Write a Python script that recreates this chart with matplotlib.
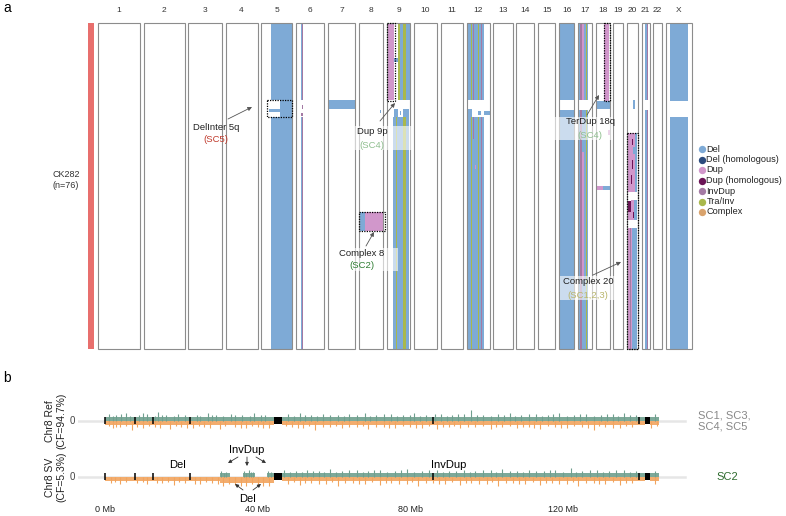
import matplotlib.pyplot as plt
from matplotlib.patches import Rectangle

plt.rcParams['font.family'] = ['Liberation Sans', 'DejaVu Sans']

W, H = 786, 516

# ---- panel a data ----
chroms = ['1', '2', '3', '4', '5', '6', '7', '8', '9', '10', '11', '12',
          '13', '14', '15', '16', '17', '18', '19', '20', '21', '22', 'X']
chrom_mb = [248.96, 242.19, 198.30, 190.21, 181.54, 170.81, 159.35, 145.14,
            138.39, 133.80, 135.09, 133.28, 114.36, 107.04, 101.99, 90.34,
            83.26, 80.37, 58.62, 64.44, 46.71, 50.82, 156.04]
gap_mb = 22.5
n_cells = 76

sv_types = ['Del', 'Del (homologous)', 'Dup', 'Dup (homologous)',
            'InvDup', 'Tra/Inv', 'Complex']
sv_colors = ['#7eaad6', '#2b4b7d', '#d197cb', '#6b1456',
             '#a47aa4', '#a9b84c', '#d9a36d']
col = dict(zip(sv_types, sv_colors))

# chrom, start fraction, end fraction, first cell row, last cell row, type
events = [
    ('5', 0.33, 1.00, 0, 18, 'Del'), ('5', 0.33, 1.00, 22, 76, 'Del'),
    ('5', 0.60, 1.00, 18, 22, 'Del'), ('5', 0.25, 0.60, 20, 20.8, 'Del'),
    ('6', 0.17, 0.21, 0, 18, 'Del'), ('6', 0.21, 0.25, 0, 18, 'InvDup'),
    ('6', 0.17, 0.21, 22, 76, 'Del'), ('6', 0.21, 0.25, 22, 76, 'InvDup'),
    ('6', 0.21, 0.25, 19.2, 20, 'InvDup'), ('6', 0.17, 0.25, 21, 21.6, 'InvDup'),
    ('7', 0.00, 1.00, 18, 20, 'Del'),
    ('8', 0.76, 0.80, 20.2, 21, 'Del'), ('8', 0.86, 0.90, 20.2, 21, 'Del'),
    ('8', 0.00, 0.25, 44, 48.5, 'Del'), ('8', 0.25, 1.00, 44, 48.5, 'Dup'),
    ('9', 0.03, 0.30, 0, 18, 'Dup'), ('9', 0.48, 0.55, 0, 18, 'Tra/Inv'),
    ('9', 0.55, 0.68, 0, 18, 'Del'), ('9', 0.68, 0.80, 0, 18, 'Tra/Inv'),
    ('9', 0.80, 0.97, 0, 18, 'Del'), ('9', 0.30, 0.48, 8.2, 9.2, 'Del'),
    ('9', 0.25, 0.67, 22, 76, 'Del'), ('9', 0.67, 0.80, 22, 76, 'Tra/Inv'),
    ('9', 0.80, 0.95, 22, 76, 'Del'), ('9', 0.40, 0.43, 22, 76, 'Tra/Inv'),
    ('9', 0.30, 0.45, 20, 22, 'Del'), ('9', 0.55, 0.60, 20.5, 21.5, 'Del'),
    ('9', 0.70, 0.95, 20, 22, 'Del'),
    ('12', 0.00, 0.75, 0, 18, 'Del'), ('12', 0.00, 0.75, 22, 76, 'Del'),
    ('12', 0.18, 0.22, 0, 18, 'Tra/Inv'), ('12', 0.18, 0.22, 22, 76, 'Tra/Inv'),
    ('12', 0.50, 0.54, 0, 18, 'Tra/Inv'), ('12', 0.50, 0.54, 22, 76, 'Tra/Inv'),
    ('12', 0.26, 0.30, 0, 18, 'InvDup'), ('12', 0.33, 0.37, 0, 18, 'Dup'),
    ('12', 0.42, 0.46, 0, 18, 'InvDup'), ('12', 0.42, 0.46, 22, 76, 'InvDup'),
    ('12', 0.60, 0.65, 0, 18, 'InvDup'), ('12', 0.60, 0.65, 22, 76, 'InvDup'),
    ('12', 0.26, 0.30, 22, 27, 'InvDup'), ('12', 0.33, 0.40, 33, 34, 'Dup'),
    ('12', 0.00, 0.20, 20, 22, 'Del'), ('12', 0.50, 0.60, 20.5, 21.5, 'Del'),
    ('12', 0.75, 1.00, 20.5, 21.5, 'Del'),
    ('16', 0.00, 1.00, 0, 18, 'Del'), ('16', 0.00, 1.00, 20.3, 76, 'Del'),
    ('17', 0.00, 0.72, 0, 18, 'Del'), ('17', 0.00, 0.72, 20.3, 76, 'Del'),
    ('17', 0.15, 0.25, 0, 18, 'InvDup'), ('17', 0.15, 0.25, 20.3, 76, 'InvDup'),
    ('17', 0.30, 0.38, 0, 18, 'Dup'), ('17', 0.30, 0.38, 30, 60, 'Dup'),
    ('17', 0.55, 0.61, 0, 18, 'Tra/Inv'), ('17', 0.55, 0.61, 20.3, 76, 'Tra/Inv'),
    ('18', 0.60, 0.95, 0, 18.3, 'Dup'), ('18', 0.00, 1.00, 18.3, 20, 'Del'),
    ('18', 0.85, 1.00, 25, 26, 'Dup'),
    ('18', 0.00, 0.50, 38, 39, 'Dup'), ('18', 0.50, 1.00, 38, 39, 'Del'),
    ('20', 0.55, 0.70, 18, 20, 'Del'),
    ('20', 0.05, 0.75, 25.7, 39.4, 'Dup'), ('20', 0.75, 0.92, 25.7, 39.4, 'Del'),
    ('20', 0.45, 0.52, 27, 28.5, 'Dup (homologous)'),
    ('20', 0.45, 0.52, 32, 34, 'Dup (homologous)'),
    ('20', 0.40, 0.48, 35.5, 37.5, 'Dup (homologous)'),
    ('20', 0.55, 0.70, 29, 30.5, 'Del'),
    ('20', 0.05, 0.40, 41.5, 44, 'Dup (homologous)'),
    ('20', 0.40, 0.60, 41.3, 46, 'Dup'), ('20', 0.05, 0.40, 44, 46, 'Dup'),
    ('20', 0.60, 0.92, 41.3, 46, 'Del'),
    ('20', 0.55, 0.65, 44, 45.5, 'Dup (homologous)'),
    ('20', 0.05, 0.45, 47.8, 76, 'Dup'), ('20', 0.30, 0.36, 47.8, 76, 'InvDup'),
    ('20', 0.45, 0.90, 47.8, 76, 'Del'),
    ('21', 0.45, 0.62, 0, 18, 'Del'), ('21', 0.62, 0.82, 0, 18, 'InvDup'),
    ('21', 0.45, 0.62, 20.3, 76, 'Del'), ('21', 0.62, 0.82, 20.3, 76, 'InvDup'),
    ('X', 0.15, 0.85, 0, 18.2, 'Del'), ('X', 0.15, 0.85, 22, 76, 'Del'),
]

# dashed boxes: chrom, start fraction, end fraction, first row, last row
boxes = [('5', 0.20, 1.0, 17.9, 21.9), ('9', 0.0, 0.35, 0, 18.3),
         ('18', 0.55, 1.0, 0, 18.3), ('8', 0.0, 1.05, 44, 48.5),
         ('20', 0.0, 1.0, 25.7, 76)]

# labels: name, subclone, subclone colour, centre px, bg box px, arrow px
labels = [
    ('DelInter 5q', '(SC5)', '#c0392b', (216, 133), None, ((228, 119), (252, 107))),
    ('Dup 9p', '(SC4)', '#8fbf8f', (372, 138), (355, 126, 412, 150), ((380, 121), (395, 103))),
    ('Complex 8', '(SC2)', '#2e7d32', (362, 259), (349, 248, 398, 271), ((366, 246), (374, 232))),
    ('TerDup 18q', '(SC4)', '#8fbf8f', (590, 128), (540, 117, 613, 140), ((587, 115), (599, 95))),
    ('Complex 20', '(SC1,2,3)', '#b9b56a', (588, 288), (560, 276, 616, 300), ((593, 275), (621, 262))),
]

# ---- panel b data (Mb) ----
chr8_len = 145.14
gap_ticks = [0, 7.9, 12.7, 22.3, 86.0, 140.0]
gap_blocks = [(44.3, 46.5), (141.6, 142.8)]
ref_green = [(0, 44.3), (46.5, 141.6), (142.8, chr8_len)]
ref_orange = [(0, 44.3), (46.5, 141.6), (142.8, chr8_len)]
sv_green = [(30.1, 32.7), (36.1, 39.3), (42.4, 44.3), (46.5, 141.6), (142.8, chr8_len)]
sv_orange = [(0, 44.3), (46.5, 141.6), (142.8, chr8_len)]
sv_orange_deep = [(30.0, 44.3)]
ref_up = [(1, 6), (2, 4), (3, 5), (4.2, 6), (5.5, 7), (6.6, 4), (9, 5), (10, 7), (11, 6),
          (13, 4), (14, 8), (15, 5), (16, 5), (18, 4), (19, 6), (21, 5), (24, 5), (25, 4),
          (27, 7), (28, 5), (29, 5), (31, 4), (33, 6), (34, 5), (36, 5), (38, 4), (39, 7),
          (41, 5), (42, 5), (48, 6), (49.5, 4), (51, 7), (52.5, 5), (54, 5), (55.5, 4),
          (57, 6), (59, 5), (61, 5), (62.5, 4), (64, 6), (66, 5), (68, 7), (69.5, 4),
          (71, 5), (73, 6), (75, 6), (76.5, 4), (78, 5), (80, 5), (81, 7), (82.5, 4),
          (84, 5), (86.5, 6), (88, 6), (89.5, 4), (91, 5), (92.5, 6), (94, 6), (96, 10),
          (97.5, 5), (99, 5), (101, 4), (103, 6), (104.5, 5), (106, 7), (107.5, 4),
          (109, 5), (111, 6), (113, 6), (114.5, 4), (116, 5), (117.5, 6), (119, 7),
          (121, 4), (123, 5), (124.5, 6), (126, 6), (128, 4), (130, 5), (131.5, 6),
          (133, 6), (134.5, 4), (136, 7), (137.5, 5), (139, 5), (144, 6)]
ref_down = [(1, 4), (2, 6), (3, 5), (4, 5), (5.5, 4), (7, 8), (8.5, 5), (10, 6), (11.5, 4),
            (13, 5), (14.5, 6), (17, 7), (18.5, 4), (20, 5), (21.5, 6), (23, 6), (24.5, 4),
            (26, 5), (27.5, 6), (30, 7), (31.5, 4), (34, 5), (35.5, 6), (37, 6), (38.5, 4),
            (40, 5), (41.5, 6), (43, 6), (47.5, 4), (49, 5), (50.5, 6), (52, 6), (53.5, 4),
            (55, 8), (57, 5), (59, 5), (60.5, 4), (62, 6), (64, 5), (66, 5), (67.5, 4),
            (69, 7), (71, 5), (73, 5), (74.5, 6), (76, 6), (78, 4), (80, 5), (81.5, 6),
            (83, 6), (85, 4), (87, 7), (88.5, 5), (90, 5), (91.5, 4), (93, 6), (95, 5),
            (97, 5), (99, 4), (101, 7), (102.5, 5), (104, 5), (106, 4), (108, 6),
            (109.5, 5), (111, 5), (112.5, 6), (114, 7), (116, 4), (118, 5), (119.5, 6),
            (121, 6), (123, 4), (125, 5), (126.5, 6), (128, 8), (129.5, 4), (131, 5),
            (133, 6), (135, 6), (136.5, 4), (138, 5), (143, 6), (144.5, 4)]
sv_up = [(30.5, 5), (31.2, 3), (31.8, 4), (36.5, 5), (37, 3), (37.6, 6), (38.2, 4), (38.8, 4),
         (42.8, 5), (43.6, 4), (47, 6), (48.5, 4), (50, 5), (51.5, 4), (53, 6), (54.5, 5),
         (56, 5), (57.5, 4), (59, 7), (60.5, 4), (62, 5), (64, 6), (66, 6), (67.5, 4),
         (69, 5), (70.5, 6), (72, 6), (74, 4), (76, 5), (77.5, 6), (79, 7), (81, 4),
         (83, 5), (85, 6), (87, 6), (88.5, 4), (90, 5), (92, 5), (94, 6), (95.5, 4),
         (97, 5), (99, 6), (101, 6), (102.5, 4), (104, 7), (106, 5), (108, 5), (109.5, 4),
         (111, 6), (113, 5), (115, 5), (116.5, 6), (118, 6), (120, 4), (122, 8),
         (123.5, 4), (125, 5), (127, 6), (129, 6), (130.5, 4), (132, 5), (134, 6),
         (136, 6), (137.5, 4), (139, 5), (144, 5)]
sv_down = [(1.5, 5), (2.5, 4), (4, 6), (5.5, 4), (8.5, 5), (10, 4), (11, 6), (13.5, 5),
           (15, 5), (16.5, 4), (18, 7), (19.5, 4), (21, 5), (23.5, 6), (25, 6), (26.5, 4),
           (28, 5), (29.5, 6), (31, 8), (32.5, 6), (34, 7), (35.5, 8), (37, 8), (38.5, 6),
           (40, 7), (41.5, 8), (43, 8), (48, 6), (49.5, 4), (51, 7), (52.5, 5), (54, 5),
           (56, 6), (58, 6), (59.5, 4), (61, 8), (63, 5), (65, 5), (66.5, 6), (68, 6),
           (70, 4), (72, 7), (73.5, 5), (75, 5), (77, 6), (79, 6), (80.5, 4), (82, 8),
           (84, 5), (86, 5), (87.5, 6), (89, 6), (91, 4), (93, 7), (94.5, 5), (96, 5),
           (98, 6), (100, 6), (101.5, 4), (103, 8), (105, 5), (107, 5), (108.5, 6),
           (110, 6), (112, 4), (114, 7), (115.5, 5), (117, 5), (119, 6), (121, 6),
           (122.5, 4), (124, 8), (126, 5), (128, 5), (129.5, 6), (131, 6), (133, 4),
           (135, 7), (136.5, 5), (138, 5), (144, 6)]

green = '#6f9f8f'
orange = '#f1a45e'


def fx(x):
    return x / W


def fy(y):
    return 1 - y / H


starts = {}
pos = 0
for c, size in zip(chroms, chrom_mb):
    starts[c] = pos
    pos += size + gap_mb
total_mb = pos - gap_mb
size_of = dict(zip(chroms, chrom_mb))


def gx(c, f):
    return starts[c] + f * size_of[c]


fig = plt.figure(figsize=(W / 100, H / 100), dpi=100)

# ---- panel a ----
ax = fig.add_axes([fx(98), fy(349), (692 - 98) / W, (349 - 23) / H])
ax.set_xlim(0, total_mb)
ax.set_ylim(n_cells, 0)
ax.axis('off')

for c, f0, f1, r0, r1, t in events:
    ax.add_patch(Rectangle((gx(c, f0), r0), gx(c, f1) - gx(c, f0), r1 - r0,
                           facecolor=col[t], lw=0, zorder=2))
for c in chroms:
    ax.add_patch(Rectangle((starts[c], 0), size_of[c], n_cells, fill=False,
                           edgecolor='#8c8c8c', lw=0.8, zorder=3, clip_on=False))
    ax.text(starts[c] + size_of[c] / 2, -2.8, c, ha='center', va='center',
            fontsize=6, color='#333333')
for c, f0, f1, r0, r1 in boxes:
    ax.add_patch(Rectangle((gx(c, f0), r0), gx(c, f1) - gx(c, f0), r1 - r0,
                           fill=False, edgecolor='black', lw=0.9,
                           ls=(0, (1, 1)), zorder=5, clip_on=False))

mb_per_px = total_mb / (692 - 98)
ax.add_patch(Rectangle((-10 * mb_per_px, 0), 6 * mb_per_px, n_cells,
                       facecolor='#e86f6d', lw=0, clip_on=False))
ax.text(-32 * mb_per_px, 36.6, 'CK282\n(n=76)', ha='center', va='center',
        fontsize=6.5, color='#333333', clip_on=False)

for name, sc, sc_col, (tx, ty), bg, (a0, a1) in labels:
    if bg is not None:
        fig.add_artist(Rectangle((fx(bg[0]), fy(bg[3])), (bg[2] - bg[0]) / W,
                                 (bg[3] - bg[1]) / H, transform=fig.transFigure,
                                 facecolor='white', alpha=0.6, lw=0, zorder=4))
    fig.text(fx(tx), fy(ty - 6), name, ha='center', va='center', fontsize=6.8,
             color='#222222', zorder=6)
    fig.text(fx(tx), fy(ty + 7), sc, ha='center', va='center', fontsize=6.8,
             color=sc_col, zorder=6)
    ax.annotate('', xy=(fx(a1[0]), fy(a1[1])), xycoords='figure fraction',
                xytext=(fx(a0[0]), fy(a0[1])), textcoords='figure fraction',
                arrowprops=dict(arrowstyle='-|>', color='#555555', lw=0.6,
                                mutation_scale=6, shrinkA=0, shrinkB=0),
                annotation_clip=False, zorder=6)

# legend
axl = fig.add_axes([fx(695), fy(222), 90 / W, 82 / H])
axl.set_xlim(695, 785)
axl.set_ylim(222, 140)
axl.axis('off')
for i, (t, cc) in enumerate(zip(sv_types, sv_colors)):
    yy = 149 + 10.5 * i
    axl.scatter([702], [yy], s=28, color=cc, lw=0, clip_on=False)
    axl.text(706.5, yy, t, va='center', ha='left', fontsize=6.6, color='#222222',
             clip_on=False)

fig.text(fx(3), fy(8), 'a', fontsize=10, va='center', ha='left')
fig.text(fx(3), fy(378), 'b', fontsize=10, va='center', ha='left')

# ---- panel b ----
px_per_mb = 3.817
x0_px = 105
axb = fig.add_axes([fx(78), fy(500), (690 - 78) / W, (500 - 395) / H])
axb.set_xlim((78 - x0_px) / px_per_mb, (690 - x0_px) / px_per_mb)
axb.set_ylim(500, 395)
axb.axis('off')


def track(base, g_segs, o_segs, deep_segs, ups, downs):
    axb.plot([-7, 152], [base, base], color='#e6e6e6', lw=1.8, zorder=0)
    for a, b in g_segs:
        axb.fill_between([a, b], base - 4.2, base, color='#7da999', lw=0, zorder=1)
    for a, b in o_segs:
        axb.fill_between([a, b], base, base + 4.2, color='#f3ad6e', lw=0, zorder=1)
    for a, b in deep_segs:
        axb.fill_between([a, b], base, base + 5.8, color='#f3ad6e', lw=0, zorder=1)
    for m, h in ups:
        if any(a <= m <= b for a, b in g_segs):
            axb.vlines(m, base - h - 1, base, color=green, lw=0.8, zorder=1)
    for m, h in downs:
        if any(a <= m <= b for a, b in o_segs):
            axb.vlines(m, base, base + h + 1, color=orange, lw=0.8, zorder=1)
    axb.vlines(gap_ticks, base - 3.5, base + 3.5, color='black', lw=1.1, zorder=2)
    for a, b in gap_blocks:
        axb.add_patch(Rectangle((a, base - 3.5), b - a, 7, color='black',
                                lw=0, zorder=2))
    axb.text((72 - x0_px) / px_per_mb, base, '0', ha='center', va='center',
             fontsize=7, color='#444444')


track(421, ref_green, ref_orange, [], ref_up, ref_down)
track(477, sv_green, sv_orange, sv_orange_deep, sv_up, sv_down)

for mb in [0, 40, 80, 120]:
    axb.text(mb, 510, f'{mb} Mb', ha='center', va='center', fontsize=6.5,
             color='#222222', clip_on=False)

fig.text(fx(56), fy(421), 'Chr8 Ref\n(CF=94.7%)', rotation=90, ha='center',
         va='center', fontsize=7.5, color='#222222', multialignment='center')
fig.text(fx(56), fy(477), 'Chr8 SV\n(CF=5.3%)', rotation=90, ha='center',
         va='center', fontsize=7.5, color='#222222', multialignment='center')
fig.text(fx(698), fy(421), 'SC1, SC3,\nSC4, SC5', ha='left', va='center',
         fontsize=8, color='#888888', linespacing=1.1)
fig.text(fx(727), fy(477), 'SC2', ha='center', va='center', fontsize=8,
         color='#2e6b2e')


def mb(xpx):
    return (xpx - x0_px) / px_per_mb


axb.text(mb(178), 465, 'Del', ha='center', va='center', fontsize=8)
axb.text(mb(247), 450, 'InvDup', ha='center', va='center', fontsize=8)
axb.text(mb(248), 499, 'Del', ha='center', va='center', fontsize=8)
axb.text(mb(449), 465, 'InvDup', ha='center', va='center', fontsize=8)
for (xa, ya), (xb, yb) in [((238, 457), (228, 463)), ((247, 457), (247, 466)),
                           ((256, 457), (266, 463)), ((243, 490), (235, 484)),
                           ((253, 490), (261, 484))]:
    axb.annotate('', xy=(mb(xb), yb), xytext=(mb(xa), ya),
                 arrowprops=dict(arrowstyle='-|>', color='#333333', lw=0.6,
                                 mutation_scale=5, shrinkA=0, shrinkB=0),
                 annotation_clip=False)

fig.savefig('out.png', dpi=100)
